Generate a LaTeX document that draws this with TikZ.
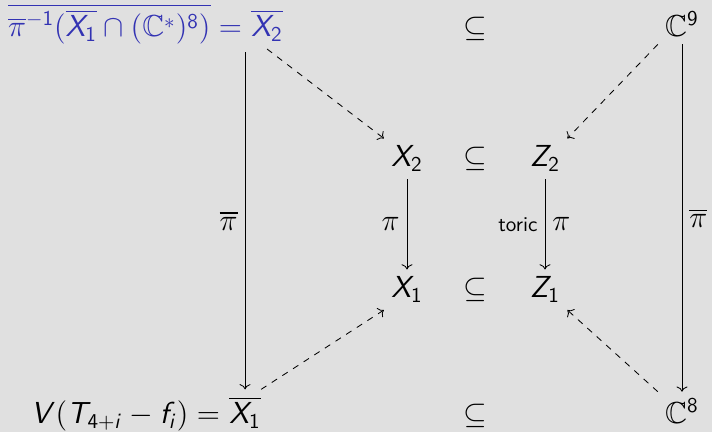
\documentclass[tikz,border=0pt]{standalone}
\usepackage{amssymb}
\usetikzlibrary{arrows.meta}
\renewcommand{\familydefault}{\sfdefault}
% sans letters and digits in math, as on the slide
\DeclareSymbolFont{sfletters}{OT1}{cmss}{m}{sl}
\DeclareSymbolFont{sfdigits}{OT1}{cmss}{m}{n}
\DeclareMathSymbol{V}{\mathalpha}{sfletters}{`V}
\DeclareMathSymbol{T}{\mathalpha}{sfletters}{`T}
\DeclareMathSymbol{X}{\mathalpha}{sfletters}{`X}
\DeclareMathSymbol{Z}{\mathalpha}{sfletters}{`Z}
\DeclareMathSymbol{f}{\mathalpha}{sfletters}{`f}
\DeclareMathSymbol{i}{\mathalpha}{sfletters}{`i}
\DeclareMathSymbol{1}{\mathalpha}{sfdigits}{`1}
\DeclareMathSymbol{2}{\mathalpha}{sfdigits}{`2}
\DeclareMathSymbol{4}{\mathalpha}{sfdigits}{`4}
\DeclareMathSymbol{8}{\mathalpha}{sfdigits}{`8}
\DeclareMathSymbol{9}{\mathalpha}{sfdigits}{`9}
\definecolor{slideback}{RGB}{224,224,224}
\definecolor{structblue}{RGB}{51,51,179}
\tikzset{
  obj/.style={
    anchor=base,
    font=\Large
  },
  tight/.style={
    obj,
    inner xsep=0pt
  },
  map/.style={
    -{Computer Modern Rightarrow},
    line width=.4pt
  },
  dmap/.style={
    map,
    dashed
  },
  lbl/.style={
    font=\Large
  }
}

\begin{document}
\begin{tikzpicture}[x=.474pt,y=-.474pt]
\fill[slideback] (0,0) rectangle (712,432);
\useasboundingbox (0,0) rectangle (712,432);
% top row
\node[tight,anchor=base west,structblue] (xb2) at (251,37) {$\overline{X_2}$};
\node[tight,anchor=base east,structblue] (tl) at (xb2.base west) {$\overline{\overline{\pi}^{-1}(\overline{X_1}\cap(\mathbb{C}^*)^8)}={}$};
\node[obj] (s1) at (475,37) {$\subseteq$};
\node[obj] (c9) at (682,37) {$\mathbb{C}^9$};
% middle rows
\node[obj] (x2) at (407,167) {$X_2$};
\node[obj] (s2) at (475,167) {$\subseteq$};
\node[obj] (z2) at (545,167) {$Z_2$};
\node[obj] (x1) at (407,298) {$X_1$};
\node[obj] (s3) at (475,298) {$\subseteq$};
\node[obj] (z1) at (545,298) {$Z_1$};
% bottom row
\node[tight,anchor=base west] (xb1) at (229,424) {$\overline{X_1}$};
\node[tight,anchor=base east] (bl) at (xb1.base west) {$V(T_{4+i}-f_i)={}$};
\node[obj] (s4) at (475,424) {$\subseteq$};
\node[obj] (c8) at (682,424) {$\mathbb{C}^8$};
% maps
\draw[map] (tl.south -| xb1) -- node[lbl,midway,left] {$\overline{\pi}$} (xb1.north);
\draw[map] (c9) -- node[lbl,midway,right] {$\overline{\pi}$} (c8);
\draw[map] (x2) -- node[lbl,midway,left] {$\pi$} (x1);
\draw[map] (z2) -- node[midway,left] {toric} node[lbl,midway,right] {$\pi$} (z1);
\draw[dmap] (xb2.south) -- (x2.north west);
\draw[dmap] (c9.south west) -- (z2.north east);
\draw[dmap] (xb1.north east) -- (x1.south west);
\draw[dmap] (c8.north west) -- (z1.south east);
\end{tikzpicture}
\end{document}
